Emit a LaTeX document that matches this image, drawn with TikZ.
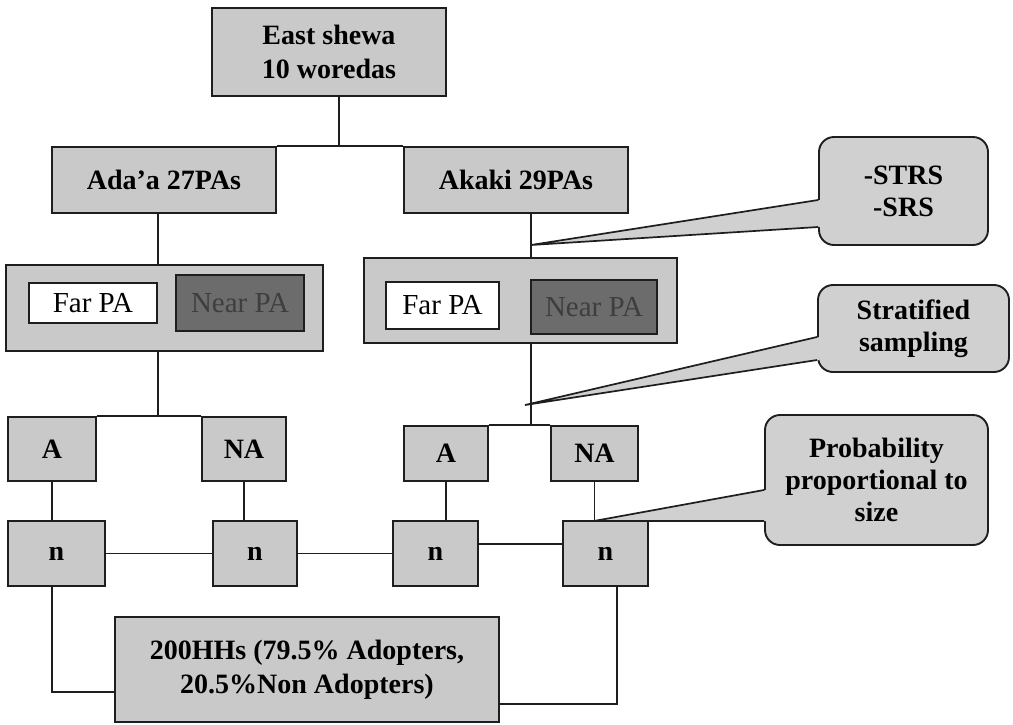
\documentclass[tikz,border=0pt]{standalone}
\usepackage{fontspec}
\setmainfont{Liberation Serif}
\definecolor{boxgray}{HTML}{C9C9C9}
\definecolor{callgray}{HTML}{D0D0D0}
\definecolor{neargray}{HTML}{6C6C6C}
\definecolor{neartext}{HTML}{3E3E3E}
\definecolor{edge}{HTML}{1E1E1E}
\tikzset{
  box/.style={draw=edge, line width=1.9pt, fill=boxgray, inner sep=0pt, align=center, font=\fontsize{28}{34}\selectfont\bfseries},
  panel/.style={draw=edge, line width=1.9pt, fill=boxgray, inner sep=0pt},
  farbox/.style={draw=edge, line width=1.9pt, fill=white, inner sep=0pt, font=\fontsize{29}{34}\selectfont},
  nearbox/.style={draw=edge, line width=1.9pt, fill=neargray, text=neartext, inner sep=0pt, font=\fontsize{29}{34}\selectfont},
  callout/.style={draw=edge, line width=1.9pt, fill=callgray, rounded corners=15pt, inner sep=0pt, align=center, font=\fontsize{28}{32}\selectfont\bfseries},
  link/.style={draw=edge, line width=1.7pt},
}
\begin{document}
\begin{tikzpicture}[x=1pt,y=-1pt]
\useasboundingbox (0,0) rectangle (1013,724);
\fill [white] (0,0) rectangle (1013,724);
% district and woredas
\node [box, minimum width=234pt, minimum height=88pt] (east) at (329,52) {East shewa\\10 woredas};
\node [box, minimum width=224pt, minimum height=66pt] (adaa) at (164,180) {Ada'a 27PAs};
\node [box, minimum width=224pt, minimum height=66pt] (akaki) at (516,180) {Akaki 29PAs};
% far / near PA panels
\node [panel, minimum width=317pt, minimum height=86pt] (lpanel) at (164.5,308) {};
\node [farbox, minimum width=128pt, minimum height=40pt] (far1) at (93,303) {Far PA};
\node [nearbox, minimum width=128pt, minimum height=56pt] (near1) at (240,303) {Near PA};
\node [panel, minimum width=313pt, minimum height=85pt] (rpanel) at (520.5,300.5) {};
\node [farbox, minimum width=113pt, minimum height=47pt] (far2) at (442.5,305.5) {Far PA};
\node [nearbox, minimum width=126pt, minimum height=54pt] (near2) at (594,307) {Near PA};
% adopters / non adopters
\node [box, minimum width=88pt, minimum height=64pt] (a1) at (52,449) {A};
\node [box, minimum width=84pt, minimum height=64pt] (na1) at (244,449) {NA};
\node [box, minimum width=84pt, minimum height=55pt] (a2) at (446,453.5) {A};
\node [box, minimum width=87pt, minimum height=55pt] (na2) at (594.5,453.5) {NA};
\node [box, minimum width=97pt, minimum height=65pt] (n1) at (56.5,553.5) {n};
\node [box, minimum width=84pt, minimum height=65pt] (n2) at (255,553.5) {n};
\node [box, minimum width=85pt, minimum height=65pt] (n3) at (435.5,553.5) {n};
\node [box, minimum width=85pt, minimum height=65pt] (n4) at (605.5,553.5) {n};
\node [box, minimum width=384pt, minimum height=105pt] (total) at (307,669.5) {200HHs (79.5\% Adopters,\\20.5\%Non Adopters)};
% connectors
\draw [link] ([xshift=10pt]east.south) -- ([xshift=10pt]east.south |- adaa.north);
\draw [link] (adaa.north east) -- (akaki.north west);
\draw [link] ([xshift=-6pt]adaa.south) -- ([xshift=-6pt]adaa.south |- lpanel.north);
\draw [link] ([xshift=15pt]akaki.south) -- ([xshift=15pt]akaki.south |- rpanel.north);
\draw [link] ([xshift=-6.5pt]lpanel.south) -- ([xshift=-6.5pt]lpanel.south |- a1.north);
\draw [link] (a1.north east) -- (na1.north west);
\draw [link] ([xshift=10.5pt]rpanel.south) -- ([xshift=10.5pt]rpanel.south |- a2.north);
\draw [link] (a2.north east) -- (na2.north west);
\draw [link] (a1.south) -- (a1.south |- n1.north);
\draw [link] (na1.south) -- (na1.south |- n2.north);
\draw [link] (a2.south) -- (a2.south |- n3.north);
\draw [link] (na2.south) -- (na2.south |- n4.north);
\draw [link] (n1.east) -- (n2.west);
\draw [link] (n2.east) -- (n3.west);
\draw [link] ([yshift=9.5pt]n3.east) -- ([yshift=9.5pt]n3.east -| n4.west);
\draw [link] ([xshift=-4.5pt]n1.south) |- ([yshift=-22.5pt]total.west);
\draw [link] ([xshift=11.5pt]n4.south) |- ([yshift=-34.5pt]total.east);
% sampling callouts
\node [callout, minimum width=169pt, minimum height=108pt] (strs) at (903.5,191) {-STRS\\-SRS};
\node [callout, minimum width=191pt, minimum height=87pt] (strat) at (913.5,328.5) {Stratified\\sampling};
\node [callout, minimum width=223pt, minimum height=130pt] (prob) at (876.5,480) {Probability\\proportional to\\size};
\coordinate (tipstrs) at (531,245);
\coordinate (tipstrat) at (525,405);
\coordinate (tipprob) at (594,521);
\fill [callgray] ([shift={(2.5pt,-9pt)}]strs.west) -- (tipstrs) -- ([shift={(2.5pt,-36pt)}]strs.west) -- cycle;
\draw [link] ([yshift=-9pt]strs.west) -- (tipstrs) -- ([yshift=-36pt]strs.west);
\fill [callgray] ([shift={(2.5pt,-8.5pt)}]strat.west) -- (tipstrat) -- ([shift={(2.5pt,-31.5pt)}]strat.west) -- cycle;
\draw [link] ([yshift=-8.5pt]strat.west) -- (tipstrat) -- ([yshift=-31.5pt]strat.west);
\fill [callgray] ([shift={(2.5pt,-10pt)}]prob.west) -- (tipprob) -- ([shift={(2.5pt,-41pt)}]prob.west) -- cycle;
\draw [link] ([yshift=-10pt]prob.west) -- (tipprob) -- ([yshift=-41pt]prob.west);
\end{tikzpicture}
\end{document}
